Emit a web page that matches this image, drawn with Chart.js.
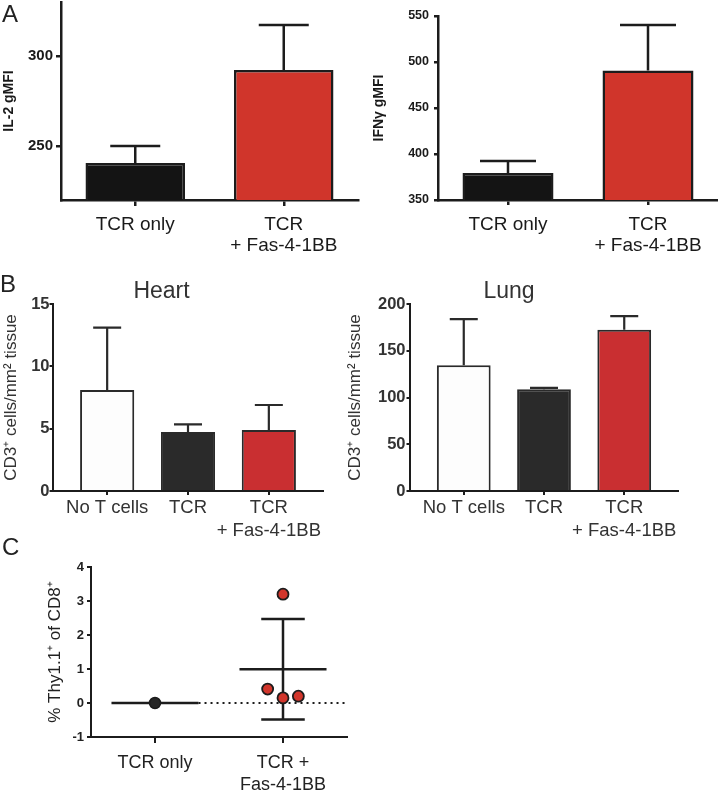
<!DOCTYPE html>
<html>
<head>
<meta charset="utf-8">
<script src="https://cdn.jsdelivr.net/npm/chart.js@4.4.1/dist/chart.umd.min.js"></script>
<style>
  body { margin: 0; background: #fff; }
  #fig { position: relative; width: 718px; height: 793px; overflow: hidden; font-family: 'Liberation Sans', Arial, sans-serif; }
  #fig canvas { position: absolute; }
  .tag { position: absolute; font-size: 24px; line-height: 1; color: #222; }
</style>
</head>
<body>
<div id="fig">
  <canvas id="il2" width="360" height="265" style="left:0;top:0"></canvas>
  <canvas id="ifng" width="358" height="265" style="left:360px;top:0"></canvas>
  <canvas id="heart" width="360" height="285" style="left:0;top:260px"></canvas>
  <canvas id="lung" width="378" height="285" style="left:340px;top:260px"></canvas>
  <canvas id="thy" width="360" height="273" style="left:0;top:520px"></canvas>
  <div class="tag" style="left:2px;top:2px">A</div>
  <div class="tag" style="left:0;top:272px">B</div>
  <div class="tag" style="left:2px;top:535px">C</div>
</div>
<script>
// panel A - cytokine gMFI
const groupsA = ['TCR only', ['TCR', '+ Fas-4-1BB']];
const il2Mean = [240.6, 292.2];
const il2Err = [9.4, 25.0];
const il2Ticks = [250, 300];
const ifngMean = [379.3, 490.8];
const ifngErr = [13.1, 49.4];
const ifngTicks = [350, 400, 450, 500, 550];

// panel B - CD3+ infiltrate
const groupsB = ['No T cells', 'TCR', ['TCR', '+ Fas-4-1BB']];
const heartMean = [8.1, 4.73, 4.9];
const heartErr = [5.0, 0.62, 2.0];
const heartTicks = [0, 5, 10, 15];
const lungMean = [134.4, 108.9, 172.4];
const lungErr = [49.5, 1.5, 14.6];
const lungTicks = [0, 50, 100, 150, 200];

// panel C - Thy1.1+ of CD8+
const groupsC = ['TCR only', ['TCR +', 'Fas-4-1BB']];
const thyTcr = [0];
const thyFas = [3.2, 0.41, 0.15, 0.2];
const thyTicks = [-1, 0, 1, 2, 3, 4];
const jitterTcr = [0];
const jitterFas = [0, -0.12, 0, 0.12];

const FONT = "'Liberation Sans', Arial, sans-serif";
const RED = '#d0352b';
const INK = '#1c1c1c';

Chart.defaults.font.family = FONT;
Chart.defaults.animation = false;
Chart.defaults.responsive = false;
Chart.defaults.plugins.legend.display = false;
Chart.defaults.plugins.tooltip.enabled = false;

// upper error bar with a cap, drawn from the top of each bar
const errorBars = {
  id: 'errorBars',
  afterDatasetsDraw(chart, args, opts) {
    const ctx = chart.ctx;
    const y = chart.scales.y;
    chart.data.datasets.forEach((ds, i) => {
      if (!ds.errors) return;
      chart.getDatasetMeta(i).data.forEach((bar, j) => {
        const d = ds.data[j];
        const v = typeof d === 'object' ? d.y : d;
        const top = y.getPixelForValue(v + ds.errors[j]);
        ctx.save();
        ctx.strokeStyle = opts.color;
        ctx.lineWidth = opts.width;
        ctx.beginPath();
        ctx.moveTo(bar.x, bar.y);
        ctx.lineTo(bar.x, top);
        ctx.moveTo(bar.x - opts.cap, top);
        ctx.lineTo(bar.x + opts.cap, top);
        ctx.stroke();
        ctx.restore();
      });
    });
  }
};

// mean line and SD whiskers for dot plots, plus dotted zero line
const meanSd = {
  id: 'meanSd',
  beforeDatasetsDraw(chart, args, opts) {
    const ctx = chart.ctx;
    const x = chart.scales.x, y = chart.scales.y;
    ctx.save();
    ctx.strokeStyle = opts.color;
    ctx.lineWidth = 2;
    ctx.setLineDash([2, 4]);
    ctx.beginPath();
    ctx.moveTo(x.getPixelForValue(opts.meanHalf), y.getPixelForValue(0));
    ctx.lineTo(chart.chartArea.right, y.getPixelForValue(0));
    ctx.stroke();
    ctx.setLineDash([]);
    ctx.lineWidth = opts.width;
    chart.data.datasets.forEach(ds => {
      const vals = ds.data.map(p => p.y);
      const n = vals.length;
      const mean = vals.reduce((a, b) => a + b, 0) / n;
      const g = ds.group;
      const my = y.getPixelForValue(mean);
      ctx.beginPath();
      ctx.moveTo(x.getPixelForValue(g - opts.meanHalf), my);
      ctx.lineTo(x.getPixelForValue(g + opts.meanHalf), my);
      if (n > 1) {
        const sd = Math.sqrt(vals.reduce((a, b) => a + (b - mean) ** 2, 0) / (n - 1));
        const hi = y.getPixelForValue(mean + sd), lo = y.getPixelForValue(mean - sd);
        const gx = x.getPixelForValue(g);
        ctx.moveTo(gx, hi);
        ctx.lineTo(gx, lo);
        [hi, lo].forEach(py => {
          ctx.moveTo(x.getPixelForValue(g - opts.capHalf), py);
          ctx.lineTo(x.getPixelForValue(g + opts.capHalf), py);
        });
      }
      ctx.stroke();
    });
    ctx.restore();
  }
};

function yAxis(o) {
  return {
    min: o.min,
    max: o.max,
    afterBuildTicks: s => { s.ticks = o.ticks.map(v => ({ value: v })); },
    afterFit: s => { s.width = o.width; s.paddingTop = 0; s.paddingBottom = 0; },
    border: { color: INK, width: o.line },
    grid: { drawOnChartArea: false, color: INK, lineWidth: o.line, tickLength: o.tick },
    ticks: { color: o.color, padding: o.pad, font: { size: o.size, weight: 'bold' } },
    title: {
      display: true,
      text: o.title,
      color: o.color,
      padding: { top: o.titlePad, bottom: 0 },
      font: { size: o.titleSize, weight: o.titleWeight, lineHeight: 1.2 }
    }
  };
}

function xAxis(o) {
  const ax = {
    type: o.type || 'category',
    offset: o.type !== 'linear',
    afterFit: s => { s.height = o.height; s.paddingLeft = 0; s.paddingRight = 0; },
    border: { color: INK, width: o.line },
    grid: { offset: false, drawOnChartArea: false, color: INK, lineWidth: o.line, tickLength: o.tick },
    ticks: {
      color: o.color, padding: o.pad, maxRotation: 0, minRotation: 0, autoSkip: false,
      font: { size: o.size, lineHeight: o.lh }
    }
  };
  if (o.type === 'linear') {
    ax.min = o.min;
    ax.max = o.max;
    ax.afterBuildTicks = s => { s.ticks = o.groups.map((g, i) => ({ value: i })); };
    ax.ticks.callback = v => o.groups[v];
  }
  return ax;
}

// A: IL-2
new Chart(document.getElementById('il2'), {
  type: 'bar',
  data: {
    labels: groupsA,
    datasets: [{
      data: il2Mean, errors: il2Err,
      backgroundColor: ['#141414', RED], borderColor: INK, borderWidth: 2.5,
      barPercentage: 0.67, categoryPercentage: 1
    }]
  },
  plugins: [errorBars],
  options: {
    layout: { padding: { top: 2, right: 2 } },
    plugins: { errorBars: { color: INK, width: 2.5, cap: 25 } },
    scales: {
      x: xAxis({ height: 65, line: 2.5, tick: 6, pad: 8, size: 19, lh: 1.12, color: '#1a1a1a' }),
      y: yAxis({ min: 220, max: 330, ticks: il2Ticks, width: 61, line: 2.5, tick: 5, pad: 3, size: 15,
        color: '#1a1a1a', title: 'IL-2 gMFI', titlePad: 1, titleSize: 14, titleWeight: 'bold' })
    }
  }
});

// A: IFN-gamma
new Chart(document.getElementById('ifng'), {
  type: 'bar',
  data: {
    labels: groupsA,
    datasets: [{
      data: ifngMean, errors: ifngErr,
      backgroundColor: ['#141414', RED], borderColor: INK, borderWidth: 2.5,
      barPercentage: 0.65, categoryPercentage: 1
    }]
  },
  plugins: [errorBars],
  options: {
    layout: { padding: { top: 16, right: 0 } },
    plugins: { errorBars: { color: INK, width: 2.5, cap: 28 } },
    scales: {
      x: xAxis({ height: 65, line: 2.5, tick: 5, pad: 9, size: 19, lh: 1.12, color: '#1a1a1a' }),
      y: yAxis({ min: 350, max: 550, ticks: ifngTicks, width: 78, line: 2.5, tick: 4, pad: 5, size: 12.5,
        color: '#1a1a1a', title: 'IFNγ gMFI', titlePad: 11, titleSize: 14, titleWeight: 'bold' })
    }
  }
});

// B: heart and lung
function tissueChart(id, title, mean, err, ticks, max, padRight, yWidth, tickPad, titlePad) {
  return new Chart(document.getElementById(id), {
    type: 'bar',
    data: {
      datasets: [{
        data: mean.map((v, i) => ({ x: i, y: v })), errors: err,
        backgroundColor: ['#fdfdfd', '#2a2a2a', '#c92f31'], borderColor: '#2a2a2a', borderWidth: 2,
        barPercentage: 0.67, categoryPercentage: 1
      }]
    },
    plugins: [errorBars],
    options: {
      layout: { padding: { top: 0, right: padRight } },
      plugins: {
        errorBars: { color: '#2a2a2a', width: 2.2, cap: 14 },
        title: {
          display: true, text: title, color: '#333',
          font: { size: 23, weight: 'normal', lineHeight: 1 },
          padding: { top: 20, bottom: 1 }
        }
      },
      scales: {
        x: xAxis({ type: 'linear', min: -0.67, max: 2.67, groups: groupsB, height: 54,
          line: 2, tick: 4, pad: 1.5, size: 18.5, lh: 1.25, color: '#333' }),
        y: yAxis({ min: 0, max: max, ticks: ticks, width: yWidth, line: 2, tick: 3.5, pad: tickPad, size: 16.5,
          color: '#333', title: 'CD3⁺ cells/mm² tissue', titlePad: titlePad, titleSize: 17, titleWeight: 'normal' })
      }
    }
  });
}
tissueChart('heart', 'Heart', heartMean, heartErr, heartTicks, 15, 37, 53, 0, 1);
tissueChart('lung', 'Lung', lungMean, lungErr, lungTicks, 200, 40, 70, 1, 5);

// C: Thy1.1+ dot plot
new Chart(document.getElementById('thy'), {
  type: 'scatter',
  data: {
    datasets: [
      { group: 0, data: thyTcr.map((v, i) => ({ x: 0 + jitterTcr[i], y: v })),
        backgroundColor: '#262626', borderColor: INK, borderWidth: 1.5, pointRadius: 5.5 },
      { group: 1, data: thyFas.map((v, i) => ({ x: 1 + jitterFas[i], y: v })),
        backgroundColor: '#d2362c', borderColor: INK, borderWidth: 1.8, pointRadius: 5.5 }
    ]
  },
  plugins: [meanSd],
  options: {
    layout: { padding: { top: 47, right: 13 } },
    plugins: { meanSd: { color: INK, width: 2.5, meanHalf: 0.34, capHalf: 0.17 } },
    scales: {
      x: xAxis({ type: 'linear', min: -0.5, max: 1.5, groups: groupsC, height: 56,
        line: 2, tick: 6, pad: 10, size: 18, lh: 1.17, color: '#222' }),
      y: yAxis({ min: -1, max: 4, ticks: thyTicks, width: 91, line: 2, tick: 4, pad: 3, size: 13,
        color: '#222', title: '% Thy1.1⁺ of CD8⁺', titlePad: 45, titleSize: 17, titleWeight: 'normal' })
    }
  }
});
</script>
</body>
</html>
